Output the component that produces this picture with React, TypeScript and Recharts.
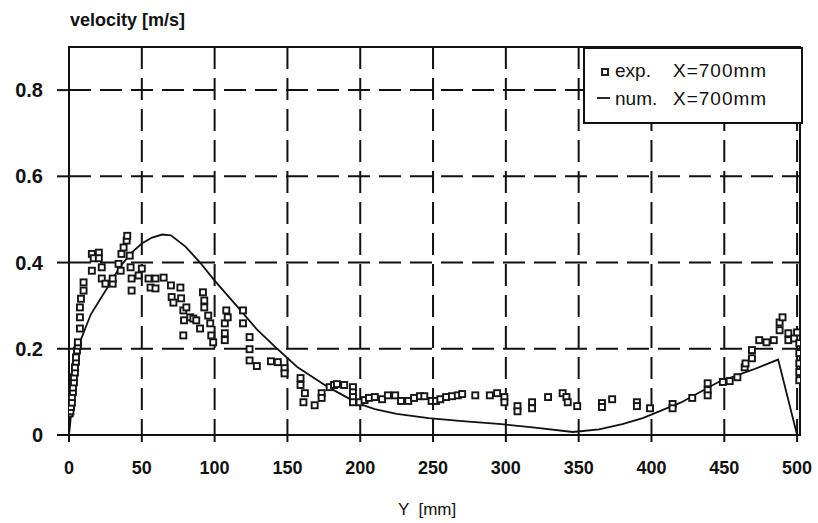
import { ComposedChart, Line, Scatter, XAxis, YAxis, CartesianGrid, ReferenceArea } from "recharts";

// measured velocity at X = 700mm, [Y mm, velocity m/s]
const expPoints: [number, number][] = [
  [0.5, 0.05], [1, 0.055], [1.4, 0.065], [2, 0.075], [2, 0.088], [2.7, 0.1], [2.7, 0.11],
  [3.4, 0.122], [3.4, 0.134], [4.1, 0.145], [4.1, 0.157], [4.8, 0.17], [4.8, 0.18],
  [5.5, 0.196], [6.1, 0.207], [6.1, 0.215], [7.5, 0.247], [7.5, 0.273], [7.5, 0.296],
  [8.2, 0.316], [10, 0.335], [10, 0.354], [15.7, 0.381], [15.7, 0.42], [17, 0.41],
  [20.5, 0.423], [20.5, 0.41], [22.5, 0.389], [22.5, 0.363], [25, 0.351], [30, 0.351],
  [30, 0.363], [34, 0.397], [35.5, 0.381], [36, 0.42], [37.5, 0.435], [39.6, 0.451],
  [40, 0.462], [41.7, 0.416], [42.3, 0.389], [43, 0.363], [43, 0.335], [47.8, 0.37],
  [50, 0.386], [54.6, 0.363], [56, 0.342], [59.4, 0.363], [59.4, 0.34], [65, 0.365],
  [70, 0.347], [70.5, 0.32], [71.7, 0.307], [76.5, 0.342], [77, 0.317], [78.5, 0.289],
  [79, 0.266], [78.5, 0.231], [80.6, 0.296], [83.3, 0.273], [85.4, 0.27], [87.4, 0.266],
  [90, 0.247], [92, 0.331], [92.9, 0.312], [92.9, 0.296], [95.6, 0.277], [97, 0.259],
  [97.7, 0.231], [99, 0.215], [108, 0.289], [107, 0.259], [107, 0.236], [107, 0.22],
  [109, 0.273], [119.5, 0.289], [119.5, 0.259], [124, 0.227], [124, 0.199], [124, 0.173],
  [129, 0.16], [138.7, 0.171], [143.4, 0.169], [148, 0.155], [148, 0.143], [159, 0.132],
  [159, 0.116], [162, 0.097], [161, 0.076], [168.7, 0.069], [173.5, 0.097], [173.5, 0.086],
  [179, 0.111], [182, 0.116], [184, 0.118], [189, 0.116], [195, 0.111], [195, 0.099],
  [195, 0.088], [195, 0.076], [199.5, 0.076], [203, 0.081], [206, 0.086], [210, 0.088],
  [215, 0.083], [219, 0.092], [224, 0.092], [228, 0.079], [233, 0.079], [237, 0.086],
  [241, 0.09], [244, 0.09], [249, 0.079], [252, 0.079], [255, 0.083], [259, 0.088],
  [263, 0.09], [267, 0.092], [270, 0.095], [279, 0.092], [289, 0.092], [294, 0.097],
  [299, 0.088], [299, 0.076], [308, 0.067], [308, 0.055], [318, 0.076], [318, 0.062],
  [329, 0.088], [339, 0.097], [341.6, 0.088], [342.5, 0.076], [349, 0.067], [366, 0.074],
  [366, 0.065], [373, 0.083], [390, 0.076], [390, 0.067], [399, 0.062], [414.5, 0.072],
  [414.5, 0.062], [428, 0.086], [438.6, 0.12], [438.6, 0.104], [438.6, 0.092], [449, 0.123],
  [453.7, 0.125], [459, 0.134], [464, 0.157], [464.6, 0.166], [469, 0.178], [469, 0.197],
  [474, 0.22], [479, 0.215], [484, 0.22], [488, 0.243], [488, 0.261], [490, 0.273],
  [494, 0.236], [494, 0.22], [498, 0.224], [500, 0.238], [501.5, 0.213], [501.5, 0.19],
  [501.5, 0.166], [501.5, 0.146], [501.5, 0.127],
];

// computed profile
const numPoints: [number, number][] = [
  [0, 0], [3, 0.1], [8, 0.22], [15, 0.28], [26, 0.34], [35, 0.39], [43, 0.423], [50, 0.444],
  [57, 0.458], [64, 0.465], [70, 0.463], [80, 0.437], [90, 0.4], [100, 0.358], [115, 0.3],
  [129, 0.245], [143, 0.2], [157, 0.157], [178, 0.111], [198, 0.074], [210, 0.06],
  [225, 0.049], [247, 0.039], [270, 0.032], [297, 0.025], [320, 0.017], [346, 0.007],
  [364, 0.013], [380, 0.025], [394, 0.039], [420, 0.075], [446, 0.123], [470, 0.152],
  [487, 0.175], [500, 0],
];

const posTicks = [0, 50, 100, 150, 200, 250, 300, 350, 400, 450, 500];
const velTicks = [0, 0.2, 0.4, 0.6, 0.8];

const expData = expPoints.map(([pos, vel]) => ({ pos, vel }));
const numData = numPoints.map(([pos, vel]) => ({ pos, vel }));

const font = '"Liberation Sans", Arial, sans-serif';
const ink = "#111";

function Square(props: any) {
  const { cx, cy } = props;
  if (cx == null || cy == null) return null;
  return <rect x={cx - 3} y={cy - 3} width={6} height={6} fill="#fff" stroke="#151515" strokeWidth={1.9} />;
}

export default function App() {
  return (
    <div style={{ position: "absolute", left: 0, top: 0, width: 818, height: 523, background: "#fff", fontFamily: font, color: ink }}>
      <ComposedChart width={818} height={523} margin={{ top: 47, right: 18, bottom: 48, left: 0 }}>
        <CartesianGrid stroke={ink} strokeWidth={2} strokeDasharray="22 9" />
        <XAxis
          type="number"
          dataKey="pos"
          domain={[0, 502]}
          ticks={posTicks}
          interval={0}
          allowDataOverflow
          height={40}
          tickSize={7}
          tickMargin={19}
          axisLine={{ stroke: ink, strokeWidth: 2 }}
          tickLine={{ stroke: ink, strokeWidth: 2 }}
          tick={{ fill: ink, fontSize: 18, fontWeight: 700, fontFamily: font }}
        />
        <YAxis
          type="number"
          dataKey="vel"
          domain={[0, 0.9]}
          ticks={velTicks}
          interval={0}
          allowDataOverflow
          width={69}
          tickSize={12}
          tickMargin={14}
          tickFormatter={(v: number) => (v === 0 ? "0" : v.toFixed(1))}
          axisLine={{ stroke: ink, strokeWidth: 2 }}
          tickLine={{ stroke: ink, strokeWidth: 2 }}
          tick={{ fill: ink, fontSize: 20, fontWeight: 700, fontFamily: font }}
        />
        <ReferenceArea x1={0} x2={502} y1={0} y2={0.9} fill="none" stroke={ink} strokeWidth={2} />
        <Line data={numData} dataKey="vel" type="linear" stroke={ink} strokeWidth={1.8} dot={false} isAnimationActive={false} />
        <Scatter data={expData} dataKey="vel" shape={Square} isAnimationActive={false} />
      </ComposedChart>

      <div style={{ position: "absolute", left: 70, top: 10, fontSize: 18, fontWeight: 700 }}>velocity [m/s]</div>
      <div style={{ position: "absolute", left: 398, top: 500, fontSize: 17, whiteSpace: "pre" }}>Y  [mm]</div>

      <div style={{ position: "absolute", left: 583, top: 47, width: 216, height: 73, border: `2px solid ${ink}`, background: "#fff", fontSize: 19 }}>
        <svg width={30} height={73} style={{ position: "absolute", left: 8, top: 0 }}>
          <rect x={9} y={20} width={6} height={6} fill="#fff" stroke="#151515" strokeWidth={1.9} />
          <line x1={4} x2={17} y1={49} y2={49} stroke={ink} strokeWidth={1.8} />
        </svg>
        <div style={{ position: "absolute", left: 30, top: 11 }}>exp.</div>
        <div style={{ position: "absolute", left: 88, top: 11, letterSpacing: 1 }}>X=700mm</div>
        <div style={{ position: "absolute", left: 30, top: 39 }}>num.</div>
        <div style={{ position: "absolute", left: 88, top: 39, letterSpacing: 1 }}>X=700mm</div>
      </div>
    </div>
  );
}
